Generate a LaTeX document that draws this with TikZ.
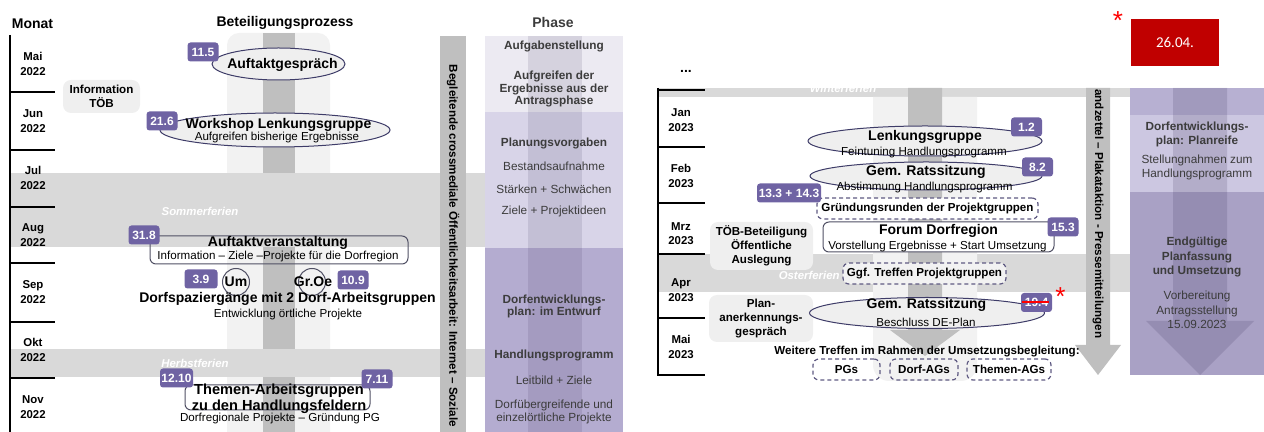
\documentclass[tikz,border=0pt]{standalone}
\usepackage{fontspec}
\setmainfont{Liberation Sans}
\newfontfamily\datefont{Carlito}
\usepackage{tikz}
\usetikzlibrary{shapes.geometric}

\definecolor{badgeviolet}{RGB}{111,99,163}
\definecolor{ellline}{RGB}{62,60,104}
\definecolor{lightfill}{RGB}{239,239,239}
\definecolor{colgrey}{RGB}{242,242,242}
\definecolor{stripegrey}{RGB}{191,191,191}
\definecolor{bandgrey}{RGB}{217,217,217}
\definecolor{phaseA}{RGB}{236,234,242}
\definecolor{phaseB}{RGB}{216,212,232}
\definecolor{phaseC}{RGB}{180,172,208}
\definecolor{phaseD}{RGB}{183,176,210}
\definecolor{phaseE}{RGB}{204,199,225}
\definecolor{phaseF}{RGB}{169,161,197}
\definecolor{phasedark}{RGB}{50,40,80}
\definecolor{phasetext}{RGB}{60,60,60}
\definecolor{dashline}{RGB}{95,90,130}
\definecolor{boxline}{RGB}{80,80,100}
\definecolor{datered}{RGB}{192,0,0}

\newcommand\fnHead{\fontsize{7}{8.4}\selectfont\bfseries}
\newcommand\fnMon{\fontsize{5.7}{7.2}\selectfont\bfseries}
\newcommand\fnTitle{\fontsize{7}{6.5}\selectfont\bfseries}
\newcommand\fnSub{\fontsize{5.8}{7}\selectfont}
\newcommand\fnSmall{\fontsize{5.8}{7}\selectfont\bfseries}
\newcommand\fnPhase{\fontsize{5.9}{6.4}\selectfont}
\newcommand\fnPhaseR{\fontsize{5.9}{7.2}\selectfont}
\newcommand\fnBar{\fontsize{5.8}{7}\selectfont\bfseries}
\newcommand\fnBadge{\fontsize{6}{7}\selectfont\bfseries}
\newcommand\fnFerien{\fontsize{5.7}{7}\selectfont\bfseries\itshape}

\begin{document}
\begin{tikzpicture}[x=0.5pt, y=-0.5pt,
    head/.style={font=\fnHead},
    mon/.style={font=\fnMon, align=center, inner sep=0pt},
    monline/.style={line width=0.7pt},
    ell/.style={ellipse, draw=ellline, fill=lightfill, inner sep=0pt, line width=0.5pt},
    badge/.style={fill=badgeviolet, text=white, font=\fnBadge, rounded corners=1.5pt,
                  minimum width=15.5pt, minimum height=9.5pt, inner sep=0pt},
    evbox/.style={draw=boxline, rounded corners=3pt, inner sep=0pt, line width=0.5pt},
    dbox/.style={draw=dashline, dash pattern=on 2pt off 1.5pt, rounded corners=3pt,
                 inner sep=0pt, minimum height=10.5pt, font=\fnSmall, line width=0.6pt},
    greybox/.style={fill=lightfill, rounded corners=4pt, font=\fnSmall, align=center, inner sep=0pt},
    ttl/.style={font=\fnTitle, align=center, inner sep=0pt},
    sub/.style={font=\fnSub, inner sep=0pt},
    ph/.style={font=\fnPhase, text=phasetext, align=center, inner sep=0pt},
    phb/.style={ph, font=\fnPhase\bfseries},
    phr/.style={ph, font=\fnPhaseR},
    phrb/.style={ph, font=\fnPhaseR\bfseries},
    ferien/.style={font=\fnFerien, text=white, inner sep=0pt},
    vbar/.style={font=\fnBar, rotate=-90, inner sep=0pt},
    circ/.style={circle, draw=boxline, inner sep=0pt, minimum size=13.5pt, line width=0.5pt},
    star/.style={font=\fontsize{13}{13}\selectfont, text=red, anchor=base, inner sep=0pt}
  ]
  \useasboundingbox (0,0) rectangle (1264,432);

  % ---------- left part: 2022 ----------
  \fill[colgrey, rounded corners=6pt] (227,33) rectangle (330,450);
  \fill[stripegrey] (263,33) rectangle (295,432);
  \fill[bandgrey] (10,173) rectangle (485,247);
  \fill[bandgrey] (10,349) rectangle (485,377);
  \node[ferien] (sommer) at (200,211) {Sommerferien};
  \node[ferien] (herbst) at (195,363) {Herbstferien};

  % media bar
  \fill[stripegrey] (440,36) rectangle (466,432);
  \node[vbar] (medienL) at (453,246) {Begleitende crossmediale Öffentlichkeitsarbeit: Internet – Soziale};

  % phase column
  \fill[phaseA] (485,36) rectangle (623,112);
  \fill[phaseB] (485,112) rectangle (623,248);
  \fill[phaseC] (485,248) rectangle (623,432);
  \fill[phasedark, opacity=0.12] (528,36) rectangle (582,432);

  \node[head] (monat) at (32.5,24) {Monat};
  \node[head] (prozess) at (285,23) {Beteiligungsprozess};
  \node[head, text=phasetext] (phase) at (553,23) {Phase};

  % months
  \draw[monline] (10,35) -- (10,432);
  \foreach \y in {92,150,207,263,322,378}
    \draw[monline] (10,\y) -- (55,\y);
  \foreach \m/\y [count=\i] in {Mai/64,Jun/121,Jul/178,Aug/235,Sep/292,Okt/350,Nov/407}
    \node[mon] (monL\i) at (33,\y) {\m\\2022};

  % phase texts
  \node[phb] (pL1) at (554,46) {Aufgabenstellung};
  \node[phb] (pL2) at (554,89) {Aufgreifen der\\Ergebnisse aus der\\Antragsphase};
  \node[phb] (pL3) at (554,143) {Planungsvorgaben};
  \node[ph] (pL4) at (554,166) {Bestandsaufnahme};
  \node[ph] (pL5) at (554,189) {Stärken + Schwächen};
  \node[ph] (pL6) at (554,211) {Ziele + Projektideen};
  \node[phb] (pL7) at (554,306.5) {Dorfentwicklungs-\\plan: im Entwurf};
  \node[phb] (pL8) at (554,355) {Handlungsprogramm};
  \node[ph] (pL9) at (554,380) {Leitbild + Ziele};
  \node[ph] (pL10) at (554,412) {Dorfübergreifende und\\einzelörtliche Projekte};

  % events
  \node[ell, minimum width=66.5pt, minimum height=16pt] (eAuftakt) at (278.5,64) {};
  \node[ttl] (tAuftakt) at (282.5,65) {Auftaktgespräch};
  \node[badge] (b115) at (203,52) {11.5};

  \node[greybox, minimum width=38.5pt, minimum height=16.5pt] (infoToeb) at (101.5,96.5) {Information\\TÖB};

  \node[ell, minimum width=115pt, minimum height=17pt] (eWorkshop) at (275,130) {};
  \node[ttl] (tWorkshop) at (278.5,125) {Workshop Lenkungsgruppe};
  \node[sub] (sWorkshop) at (277,138) {Aufgreifen bisherige Ergebnisse};
  \node[badge] (b216) at (162,121) {21.6};

  \node[evbox, minimum width=129pt, minimum height=14pt] (kVeranst) at (279,250) {};
  \node[ttl] (tVeranst) at (278,243) {Auftaktveranstaltung};
  \node[sub] (sVeranst) at (278,257) {Information – Ziele –Projekte für die Dorfregion};
  \node[badge] (b318) at (144,235) {31.8};

  \node[badge, minimum width=16.5pt] (b39) at (201,279) {3.9};
  \node[circ, font=\fnTitle] (um) at (236,282) {Um};
  \node[circ] (groe) at (312,282) {};
  \node[ttl] (tGroe) at (313,282) {Gr.Oe};
  \node[badge] (b109) at (353,280) {10.9};
  \node[ttl] (tSpazier) at (287.5,299) {Dorfspaziergänge mit 2 Dorf-Arbeitsgruppen};
  \node[sub] (sSpazier) at (288,315) {Entwicklung örtliche Projekte};

  \node[evbox, minimum width=92.5pt, minimum height=12.5pt] (kThemen) at (277.5,397.5) {};
  \node[ttl, font=\fontsize{7.3}{6.5}\selectfont\bfseries] (tThemen) at (279,398.5) {Themen-Arbeitsgruppen\\zu den Handlungsfeldern};
  \node[sub] (sThemen) at (280,419) {Dorfregionale Projekte – Gründung PG};
  \node[badge, minimum width=16.5pt] (b1210) at (176.5,378) {12.10};
  \node[badge] (b711) at (377,379) {7.11};

  % ---------- right part: 2023 ----------
  \node[font=\fnHead, anchor=base, inner sep=0pt] (dots) at (686,73) {...};
  \node[fill=datered, text=white, font=\datefont\fontsize{7.5}{9}\selectfont,
        minimum width=44pt, minimum height=23.5pt, inner sep=0pt] (datum) at (1175,42.5) {26.04.};
  \node[star] (starA) at (1118,30) {*};

  \fill[bandgrey] (658,88) rectangle (1130,97);
  \begin{scope}
    \clip (658,88) rectangle (1130,97);
    \node[ferien, anchor=base] (winter) at (843,93) {Winterferien};
  \end{scope}
  \fill[bandgrey] (658,254) rectangle (1130,292);
  \node[ferien, anchor=east] (oster) at (840,275) {Osterferien};

  \fill[colgrey] (873,97) {[rounded corners=8pt] -- (873,381) -- (977,381)} -- (977,97) -- cycle;
  \fill[stripegrey] (908,88) -- (908,330) -- (890,330) -- (925,356) -- (960,330) -- (942,330) -- (942,88) -- cycle;

  % media bar
  \fill[stripegrey] (1086,88) -- (1086,345) -- (1075,345) -- (1098,375) -- (1121,345) -- (1110,345) -- (1110,88) -- cycle;
  \node[vbar, anchor=west] (medienR) at (1098,89) {andzettel – Plakataktion - Pressemitteilungen};

  % phase column
  \fill[phaseD] (1130,88) rectangle (1264,115);
  \fill[phaseE] (1130,115) rectangle (1264,192);
  \fill[phaseF] (1130,192) rectangle (1264,375);
  \fill[phasedark, opacity=0.16] (1173,88) -- (1173,321) -- (1146,321) -- (1200,375)
       -- (1254,321) -- (1227,321) -- (1227,88) -- cycle;
  \node[phrb] (pR1) at (1197,134.5) {Dorfentwicklungs-\\plan: Planreife};
  \node[phr] (pR2) at (1197,167.5) {Stellungnahmen zum\\Handlungsprogramm};
  \node[phrb] (pR3) at (1197,257) {Endgültige\\Planfassung\\und Umsetzung};
  \node[phr] (pR4) at (1197,310) {Vorbereitung\\Antragsstellung\\15.09.2023};

  % months
  \draw[line width=1pt] (658,88) -- (658,376);
  \draw[line width=1pt] (658,90) -- (705,90);
  \draw[line width=1pt] (658,375) -- (705,375);
  \foreach \y in {147,203,254,318}
    \draw[monline] (658,\y) -- (705,\y);
  \foreach \m/\y [count=\i] in {Jan/120,Feb/176,Mrz/233.5,Apr/290,Mai/347}
    \node[mon] (monR\i) at (681,\y) {\m\\2023};

  % events
  \node[ell, minimum width=117pt, minimum height=15pt] (eLenk) at (925,141) {};
  \node[ttl] (tLenk) at (925,137) {Lenkungsgruppe};
  \node[sub] (sLenk) at (924,153) {Feintuning Handlungsprogramm};
  \node[badge] (b12) at (1026.5,127) {1.2};

  \node[ell, minimum width=116pt, minimum height=14pt] (eRat1) at (926,176) {};
  \node[ttl] (tRat1) at (926,172) {Gem. Ratssitzung};
  \node[sub] (sRat1) at (924.5,188) {Abstimmung Handlungsprogramm};
  \node[badge] (b82) at (1037.5,167) {8.2};

  \node[dbox, fill=white, minimum width=110.5pt] (kGruend) at (927.5,208.5) {Gründungsrunden der Projektgruppen};
  \node[badge, minimum width=32pt] (b133) at (789,193) {13.3 + 14.3};

  \node[evbox, fill=white, minimum width=115.5pt, minimum height=15pt] (kForum) at (938.5,237) {};
  \node[ttl] (tForum) at (938.5,231) {Forum Dorfregion};
  \node[sub] (sForum) at (937.5,247) {Vorstellung Ergebnisse + Start Umsetzung};
  \node[badge] (b153) at (1063,227) {15.3};

  \node[greybox, minimum width=51.5pt, minimum height=24pt] (toebBet) at (761.5,246) {TÖB-Beteiligung\\Öffentliche\\Auslegung};

  \node[dbox, fill=colgrey, minimum width=81.5pt] (kTreffen) at (924.5,273.5) {Ggf. Treffen Projektgruppen};

  \node[greybox, minimum width=52pt, minimum height=23.5pt] (planAnerk) at (761,318.5) {Plan-\\anerkennungs-\\gespräch};

  \node[ell, minimum width=117.5pt, minimum height=15.5pt] (eRat2) at (927,313) {};
  \node[ttl] (tRat2) at (926.5,305) {Gem. Ratssitzung};
  \node[sub] (sRat2) at (926,322) {Beschluss DE-Plan};
  \node[badge] (b194) at (1036.5,302.5) {19.4};
  \draw[red, line width=1pt] ([xshift=0.5pt]b194.west) -- ([xshift=-1.5pt]b194.east);
  \node[star] (starB) at (1060.5,306) {*};

  \node[font=\fnSmall, inner sep=0pt] (weitere) at (927,352) {Weitere Treffen im Rahmen der Umsetzungsbegleitung:};
  \node[dbox, minimum width=33.5pt] (kPG) at (846.5,369.5) {PGs};
  \node[dbox, minimum width=34pt] (kDorf) at (924,369.5) {Dorf-AGs};
  \node[dbox, minimum width=42pt] (kThAG) at (1009,369.5) {Themen-AGs};
\end{tikzpicture}
\end{document}
